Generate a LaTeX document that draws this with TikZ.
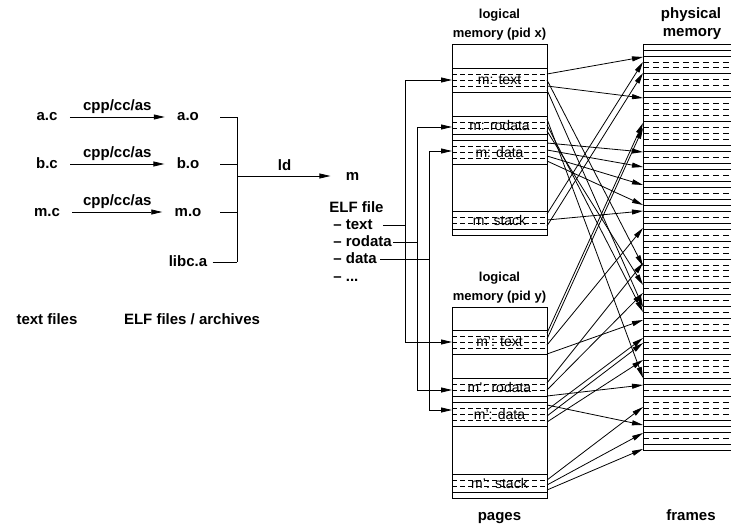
\documentclass[tikz,border=0pt]{standalone}
\usepackage{fontspec}
\setmainfont{Liberation Sans}
\usetikzlibrary{arrows.meta}
\begin{document}
\begin{tikzpicture}[x=1pt,y=-1pt,line width=0.8pt,
  lbl/.style={font=\fontsize{15}{17}\selectfont\bfseries, inner sep=0pt, text height=11pt, text depth=3pt},
  small/.style={font=\fontsize{13}{15}\selectfont\bfseries, inner sep=0pt},
  seg/.style={font=\fontsize{14}{16}\selectfont, inner sep=0pt},
  arr/.style={-{Triangle[length=11pt,width=5pt]}},
  dl/.style={dash pattern=on 5pt off 3pt},
  pd/.style={dash pattern=on 6pt off 4pt}]
\useasboundingbox (0,0) rectangle (731,527);

% ---- compile stage ----
\node[lbl] (ac) at (47,117) {a.c};
\node[lbl] (ao) at (188,117) {a.o};
\node[lbl] (bc) at (47,164) {b.c};
\node[lbl] (bo) at (188,164) {b.o};
\node[lbl] (mc) at (47,212) {m.c};
\node[lbl] (mo) at (188,212) {m.o};
\node[lbl] (libc) at (188,262) {libc.a};
\draw[arr, shorten <=12pt, shorten >=12pt] (ac) -- node[lbl, midway, yshift=10.5pt] (l1) {cpp/cc/as} (ao);
\draw[arr, shorten <=12pt, shorten >=12pt] (bc) -- node[lbl, midway, yshift=10.5pt] (l2) {cpp/cc/as} (bo);
\draw[arr, shorten <=12pt, shorten >=12pt] (mc) -- node[lbl, midway, yshift=10.5pt] (l3) {cpp/cc/as} (mo);

\coordinate (stub) at (220,0);
\coordinate (bus) at (237,176);
\draw (ao -| stub) -- (ao -| bus);
\draw (bo -| stub) -- (bo -| bus);
\draw (mo -| stub) -- (mo -| bus);
\draw ([xshift=5pt]libc.east) -- (libc -| bus);
\draw (ao -| bus) -- (libc -| bus);

\node[lbl] (m) at (352.5,176) {m};
\node[lbl] (ld) at (284.5,166) {ld};
\draw[arr, shorten >=15pt] (bus) -- (m);

\node[lbl, anchor=west] (elf) at (329,208) {ELF file};
\node[lbl, anchor=west] (etext) at (333,225) {-- text};
\node[lbl, anchor=west] (erod) at (333,242) {-- rodata};
\node[lbl, anchor=west] (edata) at (333,259) {-- data};
\node[lbl, anchor=west] (edots) at (333,277) {-- ...};

\node[lbl] (tf) at (47,320) {text files};
\node[lbl] (ef) at (192,320) {ELF files / archives};

% ---- loading into logical memory ----
\coordinate (jt) at (405,225);
\coordinate (jr) at (417,242);
\coordinate (jd) at (429,259);
\coordinate (xin1) at (452,80);
\coordinate (xin2) at (452,127);
\coordinate (xin3) at (452,151);
\coordinate (yin1) at (452,342);
\coordinate (yin2) at (452,390);
\coordinate (yin3) at (452,410);
\draw ([xshift=10pt]etext.east) -- (jt);
\draw ([xshift=1pt]erod.east) -- (jr);
\draw ([xshift=3pt]edata.east) -- (jd);
\draw[arr] (jt) |- (xin1);
\draw[arr] (jt) |- (yin1);
\draw[arr] (jr) |- (xin2);
\draw[arr] (jr) |- (yin2);
\draw[arr] (jd) |- (xin3);
\draw[arr] (jd) |- (yin3);

% ---- logical memory boxes ----
\node[small] (lx1) at (499.5,15) {logical};
\node[small] (lx2) at (499.5,34) {memory (pid x)};
\node[small] (ly1) at (499.5,278) {logical};
\node[small] (ly2) at (499.5,297) {memory (pid y)};
\draw (452,44) rectangle (547,235);
\draw (452,307) rectangle (547,498);
\foreach \t/\b/\dd/\nm/\txt in {
  68/92/{74,80,86}/sx1/{m: text},
  116/134/{122,128}/sx2/{m: rodata},
  140/164/{146,152,158}/sx3/{m: data},
  211/229/{217,223}/sx4/{m: stack},
  330/354/{336,342,348}/sy1/{m': text},
  378/396/{384,390}/sy2/{m': rodata},
  402/426/{408,414,420}/sy3/{m': data},
  474/492/{480,486}/sy4/{m': stack}} {
  \draw (452,\t) -- (547,\t);
  \draw (452,\b) -- (547,\b);
  \foreach \d in \dd {\draw[dl] (452,\d) -- (547,\d);}
  \node[seg] (\nm) at (499.5,{(\t+\b)/2}) {\txt};
}
\node[lbl] (pages) at (499.5,516) {pages};

% ---- physical memory ----
\node[lbl] (ph1) at (691,15) {physical};
\node[lbl] (ph2) at (692,33) {memory};
\node[lbl] (frames) at (691,516) {frames};
\draw (643,44) -- (643,450);
\foreach \i in {0,1,2,5,8,9,13,17,18,20,21,23,24,26,27,28,30,31,33,36,40,42,44,46,49,52,56,57,59,63,64,65,67,68}
  {\draw (643,{44+5.9706*\i}) -- (731,{44+5.9706*\i});}
\foreach \i in {3,4,6,7,10,11,12,14,15,16,19,22,25,29,32,34,35,37,38,39,41,43,45,47,48,50,51,53,54,55,58,60,61,62,66}
  {\draw[pd] (643,{44+5.9706*\i}) -- (731,{44+5.9706*\i});}

% ---- page -> frame mapping ----
\foreach \s/\g [count=\i] in {74/57, 80/266, 86/98, 90/307, 119/378, 125/312, 131/285,
   143/152, 150/167, 156/185, 161/205, 214/62, 220/211, 226/73,
   333/123, 339/128, 345/228, 354/320, 383/263, 390/293, 396/385,
   405/425, 410/338, 416/343, 422/360, 480/407, 485/433, 490/449} {
  \coordinate (src\i) at (547,\s);
  \coordinate (dst\i) at (643,\g);
  \draw[arr] (src\i) -- (dst\i);
}
\end{tikzpicture}
\end{document}
